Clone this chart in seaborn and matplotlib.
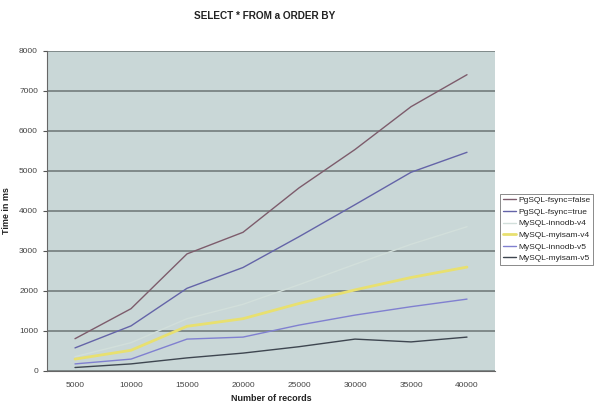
import matplotlib
matplotlib.use('Agg')
import matplotlib.pyplot as plt
import numpy as np
import pandas as pd
import seaborn as sns

records = [5000, 10000, 15000, 20000, 25000, 30000, 35000, 40000]

pg_fsync_false = [800, 1550, 2920, 3460, 4570, 5530, 6600, 7400]
pg_fsync_true = [570, 1120, 2060, 2580, 3350, 4150, 4960, 5460]
mysql_innodb_v4 = [350, 700, 1300, 1660, 2150, 2660, 3160, 3600]
mysql_myisam_v4 = [290, 510, 1110, 1300, 1680, 2020, 2330, 2590]
mysql_innodb_v5 = [170, 290, 790, 840, 1140, 1390, 1600, 1790]
mysql_myisam_v5 = [80, 170, 320, 440, 600, 790, 720, 840]

series = {
    'PgSQL-fsync=false': pg_fsync_false,
    'PgSQL-fsync=true': pg_fsync_true,
    'MySQL-innodb-v4': mysql_innodb_v4,
    'MySQL-myisam-v4': mysql_myisam_v4,
    'MySQL-innodb-v5': mysql_innodb_v5,
    'MySQL-myisam-v5': mysql_myisam_v5,
}
colors = {
    'PgSQL-fsync=false': '#7d5c6c',
    'PgSQL-fsync=true': '#6464a8',
    'MySQL-innodb-v4': '#d2dfdb',
    'MySQL-myisam-v4': '#e8e070',
    'MySQL-innodb-v5': '#8080d0',
    'MySQL-myisam-v5': '#3e4650',
}
widths = {
    'PgSQL-fsync=false': 1.0,
    'PgSQL-fsync=true': 1.0,
    'MySQL-innodb-v4': 1.0,
    'MySQL-myisam-v4': 2.0,
    'MySQL-innodb-v5': 1.0,
    'MySQL-myisam-v5': 1.0,
}

rows = []
for name, vals in series.items():
    for r, v in zip(records, vals):
        rows.append({'records': r, 'ms': v, 'series': name})
df = pd.DataFrame(rows)

sns.set_style('white')
plt.rcParams['font.family'] = ['Liberation Sans', 'DejaVu Sans']

fig = plt.figure(figsize=(5.99, 4.05), dpi=100)
ax = fig.add_axes([47 / 599, 1 - 370.7 / 405, 448 / 599, 320 / 405])
ax.set_facecolor('#c9d7d7')

for name in series:
    sns.lineplot(data=df[df['series'] == name], x='records', y='ms', ax=ax,
                 color=colors[name], linewidth=widths[name], label=name)

ax.set_xlim(2500, 42500)
ax.set_ylim(0, 8000)
ax.set_xticks(records)
ax.set_xticks([r + 2500 for r in records[:-1]], minor=True)
ax.set_yticks(np.arange(0, 8001, 1000))
ax.yaxis.grid(True, color='#7a8383', linewidth=1.3)
ax.set_axisbelow(True)
ax.tick_params(axis='x', which='major', length=0, labelsize=6, labelcolor='#444444', pad=8)
ax.tick_params(axis='x', which='minor', length=3, direction='inout', color='#555555')
ax.tick_params(axis='y', length=3, direction='out', left=True, labelsize=6,
               labelcolor='#444444', color='#555555')
for s in ['top', 'right']:
    ax.spines[s].set_visible(False)
for s in ['left', 'bottom']:
    ax.spines[s].set_color('#666666')
    ax.spines[s].set_linewidth(0.8)

ax.set_xlabel('Number of records', fontsize=6.5, fontweight='bold', color='#222222', labelpad=4)
ax.set_ylabel('Time in ms', fontsize=6.5, fontweight='bold', color='#222222', labelpad=6)
fig.text(265 / 599, 1 - 16 / 405, 'SELECT * FROM a ORDER BY', ha='center', va='center',
         fontsize=7.2, fontweight='bold', color='#222222')

ax.legend_.remove()
handles, labels = ax.get_legend_handles_labels()
leg = fig.legend(handles, labels, loc='upper left', bbox_to_anchor=(500 / 599, 1 - 194 / 405),
                 fontsize=6, frameon=True, fancybox=False, edgecolor='#555555',
                 handlelength=1.6, handletextpad=0.3, borderpad=0.3, labelspacing=0.45,
                 borderaxespad=0)
leg.get_frame().set_linewidth(0.6)

fig.savefig('out.png', dpi=100)
